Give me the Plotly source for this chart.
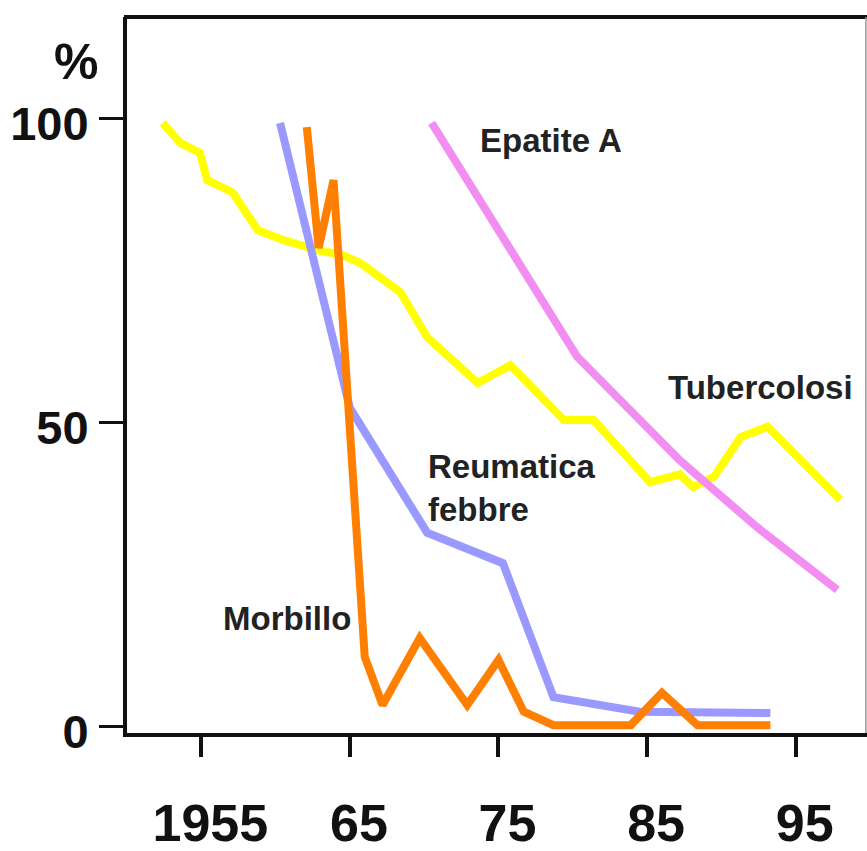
import plotly.graph_objects as go

# --- data ---
tb_years = [1952.4, 1953.6, 1954.9, 1955.4, 1957.1, 1958.8, 1960.5, 1962.8, 1964.5, 1965.7,
            1967.0, 1968.4, 1970.2, 1973.6, 1975.8, 1979.4, 1981.4, 1985.2, 1987.2, 1988.1,
            1989.5, 1991.3, 1993.1, 1998.0]
tb_values = [99.2, 95.9, 94.3, 89.8, 87.8, 81.6, 80.0, 78.3, 77.5, 76.2,
             73.9, 71.4, 64.0, 56.5, 59.4, 50.4, 50.4, 40.2, 41.5, 39.4,
             41.1, 47.6, 49.3, 37.3]

rf_years = [1960.3, 1965.0, 1970.2, 1975.3, 1978.7, 1984.5, 1993.3]
rf_values = [99.2, 52.4, 31.9, 26.9, 4.9, 2.5, 2.3]

mb_years = [1962.1, 1962.9, 1963.9, 1966.0, 1967.2, 1969.7, 1972.9, 1975.0, 1976.7,
            1978.7, 1983.9, 1986.0, 1988.4, 1993.3]
mb_values = [98.5, 78.7, 89.8, 11.5, 3.6, 14.6, 3.6, 11.0, 2.5,
             0.3, 0.3, 5.6, 0.3, 0.3]

ep_years = [1970.5, 1980.3, 1987.2, 1992.4, 1997.8]
ep_values = [99.2, 60.8, 43.8, 32.8, 22.5]

x_tick_vals = [1955, 1965, 1975, 1985, 1995]
x_tick_text = ["1955", "65", "75", "85", "95"]
y_tick_vals = [0, 50, 100]
y_tick_text = ["0", "50", "100"]

FONT = "Liberation Sans, Arial, sans-serif"

fig = go.Figure()
series = [
    (tb_years, tb_values, "#FFFF00", "Tubercolosi"),
    (ep_years, ep_values, "#F28DF2", "Epatite A"),
    (rf_years, rf_values, "#9999FF", "Reumatica febbre"),
    (mb_years, mb_values, "#FF7F00", "Morbillo"),
]
for xs, ys, col, name in series:
    fig.add_trace(go.Scatter(x=xs, y=ys, mode="lines", name=name,
                             line=dict(color=col, width=8), cliponaxis=False))

lab_font = dict(family=FONT, size=33, color="#222222", weight="bold")
fig.add_annotation(x=1973.6, y=96.3, text="Epatite A", showarrow=False,
                   xanchor="left", yanchor="middle", font=lab_font)
fig.add_annotation(x=1986.3, y=55.8, text="Tubercolosi", showarrow=False,
                   xanchor="left", yanchor="middle", font=lab_font)
fig.add_annotation(x=1970.1, y=39.2, text="Reumatica<br>febbre", showarrow=False,
                   xanchor="left", yanchor="middle", align="left", font=lab_font)
fig.add_annotation(x=1956.3, y=17.8, text="Morbillo", showarrow=False,
                   xanchor="left", yanchor="middle", font=lab_font)
fig.add_annotation(x=-0.069, xref="paper", y=109.2, text="%", showarrow=False,
                   xanchor="center", yanchor="middle",
                   font=dict(family=FONT, size=50, color="#111111", weight="bold"))

# top frame line and thin right edge line
fig.add_shape(type="line", xref="paper", yref="paper", x0=-0.004, x1=1, y0=1, y1=1,
              line=dict(color="#111111", width=4))
fig.add_shape(type="line", xref="paper", yref="paper", x0=0.9985, x1=0.9985, y0=0, y1=1,
              line=dict(color="#999999", width=1.5))

fig.update_layout(
    width=867, height=851,
    margin=dict(l=127, r=0, t=17, b=118),
    paper_bgcolor="white", plot_bgcolor="white",
    showlegend=False,
    xaxis=dict(range=[1950, 1999.8], tickvals=x_tick_vals, ticktext=x_tick_text,
               showgrid=False, zeroline=False, showline=True, linecolor="#111111",
               linewidth=4, ticks="outside", ticklen=20, tickwidth=4, tickcolor="#111111",
               tickfont=dict(family=FONT, size=52, color="#111111", weight="bold"),
               ticklabelstandoff=22, ticklabelshift=9, automargin=False),
    yaxis=dict(range=[-0.99, 116.6], tickvals=y_tick_vals, ticktext=y_tick_text,
               showgrid=False, zeroline=False, showline=True, linecolor="#111111",
               linewidth=4, ticks="outside", ticklen=24, tickwidth=3, tickcolor="#111111",
               tickfont=dict(family=FONT, size=47, color="#111111", weight="bold"),
               ticklabelstandoff=1, ticklabelshift=5, automargin=False),
)

fig.write_html("out.html", config={"displayModeBar": False})
